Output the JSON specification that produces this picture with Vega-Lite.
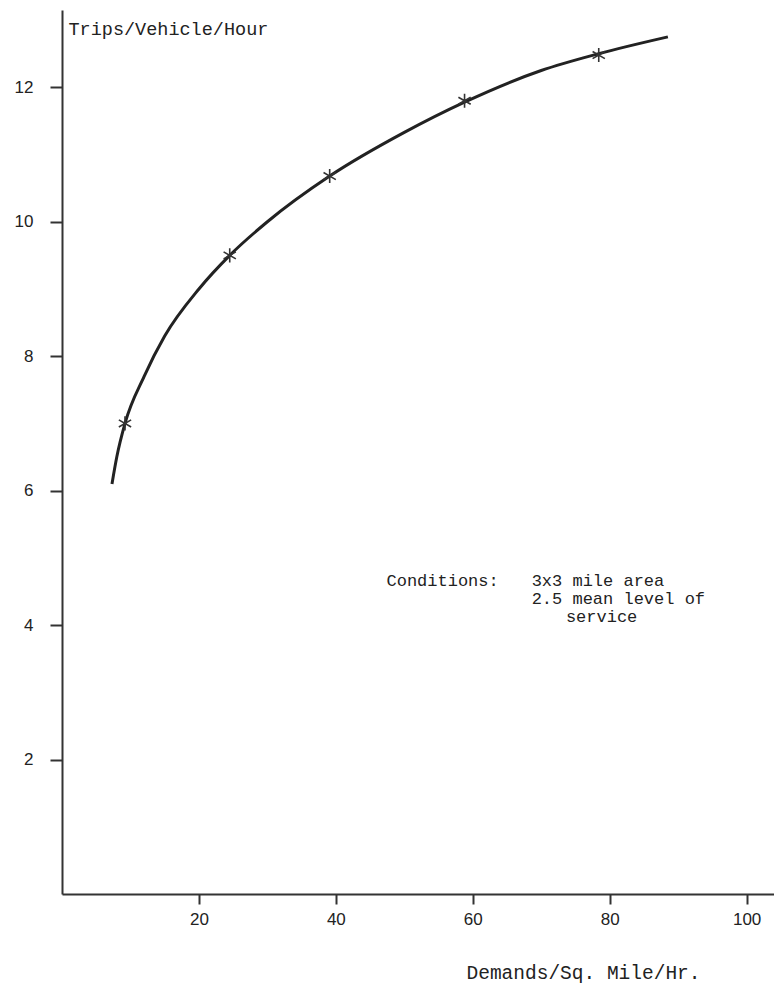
{
  "$schema": "https://vega.github.io/schema/vega-lite/v6.json",
  "width": 712,
  "height": 884,
  "autosize": "none",
  "padding": {"left": 62, "top": 10, "right": 0, "bottom": 89},
  "background": "white",
  "config": {"view": {"stroke": null}},
  "datasets": {
    "curve": [
      {"x": 7.3, "y": 6.1},
      {"x": 8.0, "y": 6.5},
      {"x": 9.2, "y": 7.0},
      {"x": 12, "y": 7.7},
      {"x": 15, "y": 8.3},
      {"x": 20, "y": 9.0},
      {"x": 24.5, "y": 9.5},
      {"x": 30, "y": 10.0},
      {"x": 39.1, "y": 10.68},
      {"x": 50, "y": 11.33},
      {"x": 58.8, "y": 11.78},
      {"x": 70, "y": 12.25},
      {"x": 78.4, "y": 12.5},
      {"x": 88.5, "y": 12.75}
    ],
    "points": [
      {"x": 9.2, "y": 7.0},
      {"x": 24.5, "y": 9.5},
      {"x": 39.1, "y": 10.68},
      {"x": 58.8, "y": 11.8},
      {"x": 78.4, "y": 12.48}
    ],
    "notes": [
      {"x": 47.4, "y": 4.66, "label": "Conditions:"},
      {"x": 68.6, "y": 4.66, "label": "3x3 mile area"},
      {"x": 68.6, "y": 4.39, "label": "2.5 mean level of"},
      {"x": 73.6, "y": 4.12, "label": "service"}
    ]
  },
  "layer": [
    {
      "data": {"name": "curve"},
      "mark": {"type": "line", "interpolate": "monotone", "color": "#222222", "strokeWidth": 3, "clip": false},
      "encoding": {
        "x": {
          "field": "x", "type": "quantitative",
          "scale": {"domain": [0, 104], "nice": false, "zero": false},
          "axis": {
            "values": [20, 40, 60, 80, 100],
            "format": "d",
            "grid": false,
            "domainColor": "#333333", "domainWidth": 2,
            "tickColor": "#333333", "tickWidth": 2, "tickSize": 10,
            "labelFont": "Liberation Sans", "labelFontSize": 17, "labelColor": "#222222",
            "labelPadding": 7,
            "title": "Demands/Sq. Mile/Hr.",
            "titleFont": "Liberation Mono", "titleFontSize": 19.5, "titleFontWeight": "normal",
            "titleColor": "#222222",
            "titleX": 521, "titleY": 78, "titleAlign": "center", "titleBaseline": "middle"
          }
        },
        "y": {
          "field": "y", "type": "quantitative",
          "scale": {"domain": [0, 13.15], "nice": false, "zero": false},
          "axis": {
            "values": [2, 4, 6, 8, 10, 12],
            "format": "d",
            "grid": false,
            "domainColor": "#333333", "domainWidth": 2,
            "tickColor": "#333333", "tickWidth": 2, "tickSize": 12,
            "labelFont": "Liberation Sans", "labelFontSize": 17, "labelColor": "#222222",
            "labelPadding": 17,
            "title": "Trips/Vehicle/Hour",
            "titleFont": "Liberation Mono", "titleFontSize": 18.5, "titleFontWeight": "normal",
            "titleColor": "#222222",
            "titleAngle": 0, "titleX": 6, "titleY": 18, "titleAlign": "left", "titleBaseline": "middle"
          }
        }
      }
    },
    {
      "data": {"name": "points"},
      "mark": {
        "type": "point",
        "shape": "M0,-1L0,1M-0.87,-0.5L0.87,0.5M-0.87,0.5L0.87,-0.5",
        "filled": false, "stroke": "#333333", "strokeWidth": 1.6, "size": 200, "opacity": 1
      },
      "encoding": {
        "x": {"field": "x", "type": "quantitative"},
        "y": {"field": "y", "type": "quantitative"}
      }
    },
    {
      "data": {"name": "notes"},
      "mark": {"type": "text", "align": "left", "baseline": "middle", "font": "Liberation Mono", "fontSize": 17, "color": "#222222"},
      "encoding": {
        "x": {"field": "x", "type": "quantitative"},
        "y": {"field": "y", "type": "quantitative"},
        "text": {"field": "label"}
      }
    }
  ]
}
